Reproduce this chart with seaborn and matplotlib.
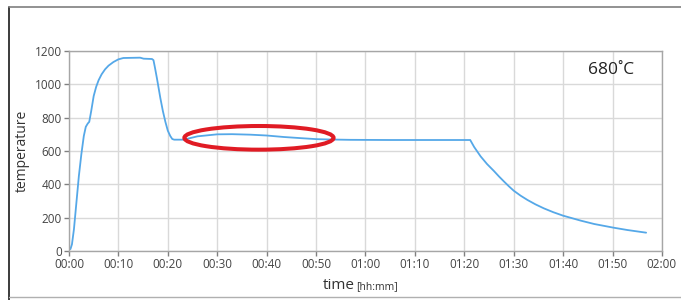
import matplotlib
matplotlib.use("Agg")
import matplotlib.pyplot as plt
from matplotlib.lines import Line2D
from matplotlib.patches import Ellipse
import pandas as pd
import seaborn as sns

# furnace profile, time in minutes, temperature in degC
time_min = [0, 0.3, 0.6, 1.0, 1.5, 2.0, 2.5, 3.0, 3.4, 3.8, 4.1, 4.5, 5.0, 5.5, 6.0,
            6.6, 7.3, 8.0, 9.0, 10.0, 11.0, 14.4, 15.1, 16.8, 17.1, 17.4, 17.8,
            18.5, 19.0, 19.5, 20.0, 20.5, 20.9, 21.3, 23.2, 26.0, 30.0, 33.0, 36.7,
            40.0, 43.5, 47.0, 50.2, 53.0, 57.0, 65.0, 75.0, 81.2, 82.0, 83.3, 84.6,
            86.0, 87.0, 88.0, 89.0, 90.0, 91.4, 92.8, 94.4, 96.1, 98.0, 100.0,
            103.6, 106.3, 110.2, 113.0, 116.8]
temperature = [10, 12, 40, 130, 290, 450, 580, 690, 745, 765, 775, 840, 930, 985, 1025,
               1060, 1090, 1112, 1134, 1150, 1158, 1160, 1154, 1152, 1145, 1100, 1036,
               916, 840, 776, 722, 690, 672, 668, 668, 688, 700, 701, 698,
               693, 684, 677, 671, 669, 667, 666, 666, 666, 624, 568, 522,
               480, 448, 418, 389, 362, 332, 306, 280, 256, 233, 212,
               182, 162, 140, 126, 110]

x_ticks = [0, 10, 20, 30, 40, 50, 60, 70, 80, 90, 100, 110, 120]
x_tick_labels = ["00:00", "00:10", "00:20", "00:30", "00:40", "00:50", "01:00",
                 "01:10", "01:20", "01:30", "01:40", "01:50", "02:00"]
y_ticks = [0, 200, 400, 600, 800, 1000, 1200]

# highlighted region (center time, center temp, width min, height degC)
mark_center = (38.45, 679)
mark_size = (30.2, 142)

df = pd.DataFrame({"time": time_min, "temperature": temperature})

sns.set_theme(style="whitegrid")
plt.rcParams["font.family"] = ["Open Sans", "DejaVu Sans"]

fig = plt.figure(figsize=(6.81, 3.0), dpi=100)
ax = fig.add_axes([0.1013, 0.1633, 0.8707, 0.6667])

sns.lineplot(data=df, x="time", y="temperature", ax=ax, color="#55a8e8", linewidth=1.3)

ax.add_patch(Ellipse(mark_center, mark_size[0], mark_size[1], fill=False,
                     edgecolor="#e01b24", linewidth=2.9, zorder=5))

ax.set_xlim(0, 120)
ax.set_ylim(0, 1200)
ax.set_xticks(x_ticks)
ax.set_xticklabels(x_tick_labels)
ax.set_yticks(y_ticks)
ax.grid(True, color="#d9d9d9", linewidth=1.0)
for s in ax.spines.values():
    s.set_color("#a6a6a6")
    s.set_linewidth(1.0)
ax.tick_params(axis="both", which="major", length=3.5, width=1, color="#808080",
               labelsize=8.5, labelcolor="#444444", pad=1.5, bottom=True, left=True)

ax.set_xlabel("")
ax.set_ylabel("temperature", fontsize=10, color="#333333", labelpad=4)
ax.text(0.482, -0.19, "time", transform=ax.transAxes, ha="right", va="baseline",
        fontsize=11, color="#333333")
ax.text(0.484, -0.19, "[hh:mm]", transform=ax.transAxes, ha="left", va="baseline",
        fontsize=7.5, color="#333333")
ax.text(0.914, 0.905, "680˚C", transform=ax.transAxes, ha="center", va="center",
        fontsize=12.5, color="#222222")

# outer frame
fig.add_artist(Line2D([0.0137, 0.0137], [0.978, 0.0], color="#1a1a1a", linewidth=1.2))
fig.add_artist(Line2D([0.0137, 1.0], [0.978, 0.978], color="#7f7f7f", linewidth=1.2))
fig.add_artist(Line2D([0.0137, 1.0], [0.011, 0.011], color="#b0b0b0", linewidth=1.0))

fig.savefig("out.png", dpi=100)
